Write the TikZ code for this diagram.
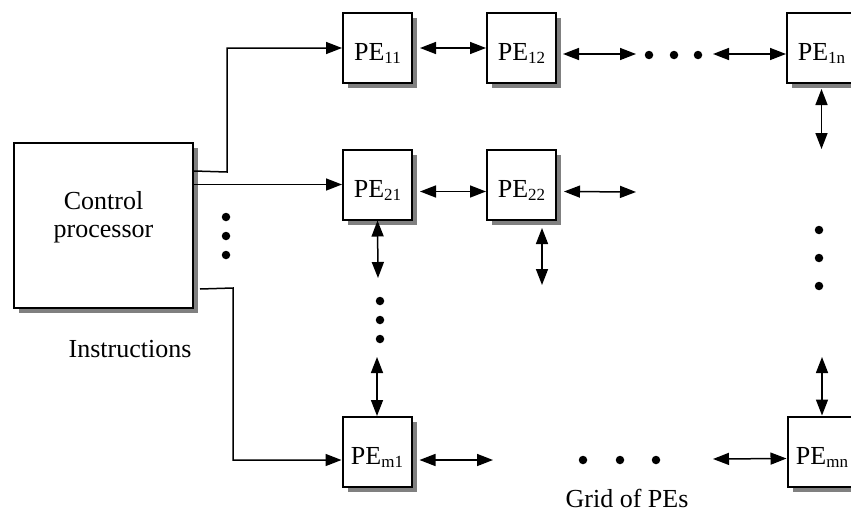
\documentclass[tikz,border=0pt]{standalone}
\usepackage{fontspec}
\setmainfont{Liberation Serif}
\usetikzlibrary{arrows.meta,shadows,calc}
\newcommand{\pesub}[1]{\raisebox{-3pt}{\fontsize{17}{17}\selectfont #1}}
\begin{document}
\begin{tikzpicture}[x=1pt,y=-1pt,
  font=\fontsize{26}{28}\selectfont,
  pebox/.style={draw, line width=2pt, fill=white, minimum width=69pt, minimum height=70pt,
    inner sep=0pt, text height=25pt, text depth=0pt,
    drop shadow={shadow xshift=5pt, shadow yshift=-5pt, fill=black!50, opacity=1}},
  link/.style={line width=1.5pt, -{Triangle[length=16pt,width=12pt]}},
  dlink/.style={line width=1.5pt, {Triangle[length=16pt,width=12pt]}-{Triangle[length=16pt,width=12pt]}},
  dot/.style={circle, fill=black, inner sep=0pt, minimum size=8.5pt}]
\useasboundingbox (0,0) rectangle (851,514);

% control processor
\node[pebox, minimum width=179pt, minimum height=165pt] (cp) at (103.5,225.5) {};
\node[align=center] (cptext) at (103.5,217) {Control\\processor};

% PEs
\node[pebox] (pe11) at (377.5,48) {PE\pesub{11}};
\node[pebox] (pe12) at (521.5,48) {PE\pesub{12}};
\node[pebox] (pe1n) at (821.5,48) {PE\pesub{1n}};
\node[pebox] (pe21) at (377.5,184.5) {PE\pesub{21}};
\node[pebox] (pe22) at (521.5,184.5) {PE\pesub{22}};
\node[pebox] (pem1) at (377,452) {PE\pesub{m1}};
\node[pebox] (pemn) at (822,451.5) {PE\pesub{mn}};

% instruction lines
\coordinate (j1) at (227,172);
\coordinate (j3a) at (233,288);
\draw[link] ($(cp.north east)+(0,29)$) -- (j1) |- (pe11.west);
\draw[link] (cp.east |- pe21.west) -- (pe21.west);
\draw[link] ($(cp.south east)+(6,-20)$) -- (j3a) |- ($(pem1.west)+(0,8)$);
\node[dot] (cd1) at (226,217) {};
\node[dot] (cd2) at (226,236) {};
\node[dot] (cd3) at (226,255) {};
\node[anchor=base] (instr) at (130,357) {Instructions};

% row 1
\coordinate (r1a) at (636,54);
\coordinate (r1b) at (713,54);
\draw[dlink] ([xshift=7pt]pe11.east) -- (pe12.west);
\draw[dlink] ($(pe12.east)+(6,6)$) -- (r1a);
\node[dot] (r1d1) at (649,55) {};
\node[dot] (r1d2) at (674,55) {};
\node[dot] (r1d3) at (698,55) {};
\draw[dlink] (r1b) -- ($(pe1n.west)+(0,6)$);

% row 2
\coordinate (r2a) at (636,192);
\draw[dlink] ($(pe21.east)+(7,7)$) -- ($(pe22.west)+(0,7)$);
\draw[dlink] ($(pe22.east)+(7,7)$) -- (r2a);
\coordinate (c1a) at (378,278);
\draw[dlink] (pe21.south) -- (c1a);
\coordinate (c2a) at (542,228);
\coordinate (c2b) at (542,285);
\draw[dlink] (c2a) -- (c2b);

% column 1
\node[dot] (c1d1) at (380,301) {};
\node[dot] (c1d2) at (380,320) {};
\node[dot] (c1d3) at (380,339) {};
\coordinate (c1b) at (377,357);
\draw[dlink] (c1b) -- (pem1.north);

% row m
\coordinate (rma) at (493,460);
\coordinate (rmb) at (713,459);
\draw[dlink] ($(pem1.east)+(7,8)$) -- (rma);
\node[dot] (rmd1) at (583,460) {};
\node[dot] (rmd2) at (620,460) {};
\node[dot] (rmd3) at (656,460) {};
\draw[dlink] (rmb) -- ($(pemn.west)+(0,7)$);

% column n
\coordinate (cna) at (821.5,149);
\coordinate (cnb) at (822,357);
\draw[dlink] ($(pe1n.south)+(0,5)$) -- (cna);
\node[dot] (cnd1) at (819,230) {};
\node[dot] (cnd2) at (819,258) {};
\node[dot] (cnd3) at (819,286) {};
\draw[dlink] (cnb) -- (pemn.north);

\node[anchor=base] (grid) at (627,507) {Grid of PEs};
\end{tikzpicture}
\end{document}
